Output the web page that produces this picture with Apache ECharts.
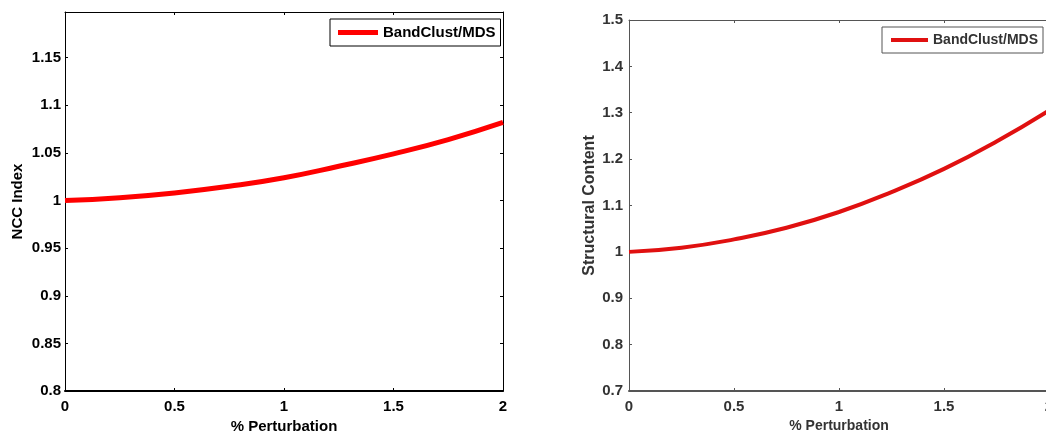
<!DOCTYPE html>
<html>
<head>
<meta charset="utf-8">
<script src="https://cdn.jsdelivr.net/npm/echarts@6/dist/echarts.min.js"></script>
<style>
html,body{margin:0;padding:0;background:#fff;}
#chart{width:1046px;height:432px;}
</style>
</head>
<body>
<div id="chart"></div>
<script>
// ---- data ----
const perturbation = [0, 0.25, 0.5, 0.75, 1.0, 1.25, 1.5, 1.75, 2.0];
const nccIndex = [1.000, 1.003, 1.008, 1.015, 1.024, 1.036, 1.049, 1.064, 1.082];
const structuralContent = [1.000, 1.009, 1.027, 1.052, 1.086, 1.129, 1.179, 1.238, 1.305];
const seriesName = 'BandClust/MDS';
const xTitle = '% Perturbation';
const leftYTitle = 'NCC Index';
const rightYTitle = 'Structural Content';

const FONT = '"Liberation Sans", Arial, sans-serif';
const chart = echarts.init(document.getElementById('chart'), null, {renderer: 'canvas'});

function pairs(xs, ys) { return xs.map((x, i) => [x, ys[i]]); }
function stepFmt(step) {
  return function (v) {
    const k = v / step;
    if (Math.abs(k - Math.round(k)) > 1e-6) return '';
    return String(+v.toFixed(2));
  };
}

function xAx(grid, pos, color, showLabels, labelColor, fs, nfs, gap) {
  return {
    type: 'value', gridIndex: grid, position: pos, min: 0, max: 2, interval: 0.5,
    axisLine: {show: true, onZero: false, lineStyle: {color: color, width: pos === 'bottom' ? 2 : 1}},
    axisTick: {show: true, inside: true, length: 3, lineStyle: {color: color}},
    splitLine: {show: false},
    axisLabel: {show: showLabels, color: labelColor, fontFamily: FONT, fontWeight: 'bold', fontSize: fs, margin: 8},
    name: showLabels ? xTitle : '', nameLocation: 'middle', nameGap: gap,
    nameTextStyle: {color: labelColor, fontFamily: FONT, fontWeight: 'bold', fontSize: nfs}
  };
}
function yAx(grid, pos, color, min, max, step, showLabels, labelColor, fs, nfs, title, gap, margin) {
  return {
    type: 'value', gridIndex: grid, position: pos, min: min, max: max, interval: step,
    axisLine: {show: true, onZero: false, lineStyle: {color: color, width: 1}},
    axisTick: {show: true, inside: true, length: 3, lineStyle: {color: color}},
    splitLine: {show: false},
    axisLabel: {show: showLabels, color: labelColor, fontFamily: FONT, fontWeight: 'bold', fontSize: fs, margin: margin,
      formatter: stepFmt(step)},
    name: showLabels ? title : '', nameLocation: 'middle', nameGap: gap, nameRotate: 90,
    nameTextStyle: {color: labelColor, fontFamily: FONT, fontWeight: 'bold', fontSize: nfs}
  };
}

const option = {
  backgroundColor: '#ffffff',
  animation: false,
  grid: [
    {left: 65, top: 12, width: 438, height: 379, show: false, containLabel: false, outerBoundsMode: 'none'},
    {left: 629, top: 20, width: 420, height: 371, show: false, containLabel: false, outerBoundsMode: 'none'}
  ],
  xAxis: [
    xAx(0, 'bottom', '#000', true, '#000', 15, 15, 23),
    xAx(0, 'top', '#000', false, '#000', 15, 15, 0),
    xAx(1, 'bottom', '#555', true, '#333', 15, 14, 27),
    xAx(1, 'top', '#555', false, '#333', 15, 14, 0)
  ],
  yAxis: [
    yAx(0, 'left', '#000', 0.8, 1.198, 0.05, true, '#000', 15, 15, leftYTitle, 40, 4),
    yAx(0, 'right', '#000', 0.8, 1.198, 0.05, false, '#000', 15, 15, '', 0, 4),
    yAx(1, 'left', '#555', 0.7, 1.5, 0.1, true, '#333', 15, 16, rightYTitle, 31, 6),
    yAx(1, 'right', '#555', 0.7, 1.5, 0.1, false, '#333', 15, 16, '', 0, 6)
  ],
  legend: [
    {
      left: 330, top: 19, orient: 'vertical',
      padding: [6, 5, 6, 8], itemWidth: 40, itemHeight: 5, icon: 'rect',
      borderColor: '#000', borderWidth: 1, backgroundColor: '#fff',
      textStyle: {color: '#000', fontFamily: FONT, fontWeight: 'bold', fontSize: 15},
      data: [{name: seriesName, itemStyle: {color: '#ff0000'}}],
      selectedMode: false
    },
    {
      left: 882, top: 27, orient: 'vertical',
      padding: [6, 5, 6, 9], itemWidth: 37, itemHeight: 4, icon: 'rect',
      borderColor: '#555', borderWidth: 1, backgroundColor: '#fff',
      textStyle: {color: '#333', fontFamily: FONT, fontWeight: 'bold', fontSize: 14},
      data: [{name: seriesName, itemStyle: {color: '#e01010'}}],
      selectedMode: false
    }
  ],
  series: [
    {
      name: seriesName, type: 'line', xAxisIndex: 0, yAxisIndex: 0,
      data: pairs(perturbation, nccIndex), smooth: true, showSymbol: false,
      lineStyle: {color: '#ff0000', width: 5}, itemStyle: {color: '#ff0000'}
    },
    {
      name: seriesName, type: 'line', xAxisIndex: 2, yAxisIndex: 2,
      data: pairs(perturbation, structuralContent), smooth: true, showSymbol: false,
      lineStyle: {color: '#e01010', width: 4}, itemStyle: {color: '#e01010'}
    }
  ]
};
chart.setOption(option);
</script>
</body>
</html>
